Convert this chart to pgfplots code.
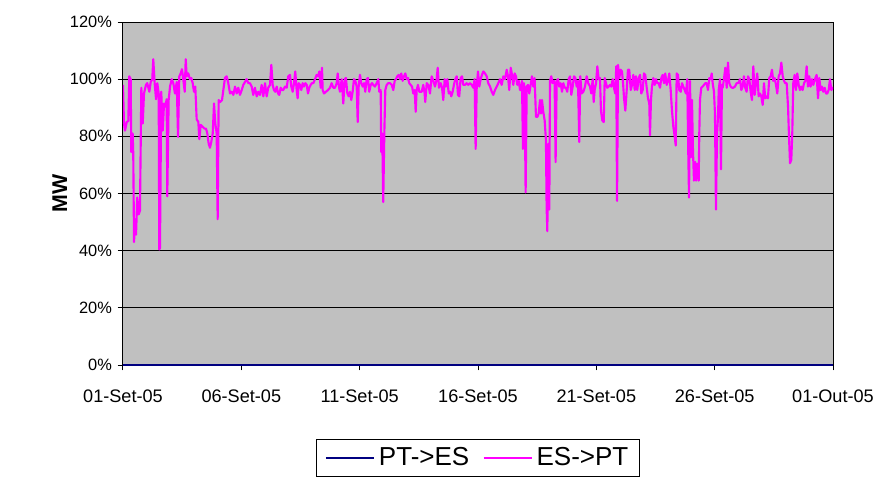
\documentclass[border=0pt]{standalone}
\usepackage{fontspec}
\setmainfont{Liberation Sans}
\usepackage{pgfplots}
\usepackage{pgfplotstable}
\pgfplotsset{compat=1.18}

% hours since 01-Sep-05 00:00, percent of capacity
\pgfplotstableread{
h v
0 98
1.0 84.5
2.0 82
3.8 85
5.4 85.4
6.4 101
7.8 100
8.4 74.5
9.8 81
10.4 74
11.2 43
12.2 51
13.2 45.6
14.5 58.6
15.9 52.7
17.2 54
18.6 97
20.0 84.5
21.3 95
23.3 98
24.6 98.6
26.7 95.6
28.1 99
29.7 100
30.7 107
32.1 98.6
33.5 93
34.8 98.6
36.2 95
36.8 40.4
37.5 41
38.8 95.6
40.3 82
41.6 91.5
42.9 90.4
44.3 93
44.9 59
46.3 92.7
47.7 97.4
49.4 100
51.0 98.6
52.7 95
54.5 99
55.8 79.8
57.1 101
58.5 102
59.8 103.5
61.1 100
62.6 95.6
63.6 107
64.6 101
66.2 102
67.9 100
69.3 100.4
70.7 98.6
72.0 95.6
73.3 97.4
74.7 86
76.4 85
77.4 79
78.8 84
80.8 83.3
82.8 82.7
84.2 82.7
85.5 81
86.9 77.4
88.2 76
89.5 78
91.0 81
92.3 91.5
93.6 84.5
95.0 81
96.0 51
97.0 92.7
98.4 92
100.4 92.7
103.4 100.4
105.1 101
106.8 98.6
108.5 95
110.2 95.6
111.9 94.5
113.6 97.4
115.3 95
116.9 97
118.6 94.5
120.4 96.2
122.0 98
123.7 99
125.4 100
127.1 98.6
128.8 98.6
130.5 97.4
132.1 94.5
133.8 97
135.6 94
137.2 95.6
138.9 94.5
140.6 98
142.3 94
144.0 98.6
145.7 94
147.3 97
149.1 98
150.4 105
151.8 98
153.1 96.2
154.4 95.6
155.9 97.4
157.2 95
158.5 94.5
159.9 97
161.2 96.2
162.5 96.2
164.3 97.4
166.0 97
167.6 101
169.3 101.5
170.7 97.4
172.1 95.6
173.4 98.6
174.7 102.7
176.1 96.2
177.1 93.3
178.2 98.6
179.5 98
180.8 96.2
182.2 98.6
183.5 97.4
184.9 98.6
186.3 98
187.6 95
188.9 97
190.3 98
191.6 98.6
193.0 98.6
194.7 100
196.4 101.5
197.7 101
199.1 102.7
200.5 97
201.8 104
202.5 96.2
203.8 95
205.8 95.6
207.9 96.2
209.9 97
211.6 98.6
213.3 97
215.0 97
216.7 98.6
217.7 102
219.0 97.4
220.0 95.6
221.8 100
223.4 91.5
224.8 100
226.1 100.4
227.5 95
228.9 94
230.2 95.6
231.5 92.7
232.9 95.6
234.2 100
235.6 99.4
237.0 97.4
238.0 85
239.0 97.4
240.3 101.5
241.6 98.6
243.1 97.4
244.4 98.6
245.7 95.6
247.1 100
248.4 100.4
249.7 95.6
251.2 98
252.5 98.6
253.8 98
255.5 97.4
257.3 98.6
258.9 100
259.9 95.6
261.3 96.2
261.9 74.5
262.9 81
263.9 57
265.0 81
266.0 96.2
267.4 98
269.0 98.6
270.7 98.6
272.5 98
274.1 96.2
275.5 99.4
276.8 100
278.1 101
279.6 101.5
280.9 100
282.2 102
283.6 99.4
284.9 101
286.3 102
287.7 100
289.0 100.4
290.3 98.6
291.7 98
293.1 97.4
294.4 95
295.8 96.2
296.8 88.6
297.8 96.2
299.1 98
300.5 95.6
302.9 95.6
304.5 98
305.9 95
306.5 92
308.0 98.6
309.6 98
311.3 95
313.0 101
314.7 99.4
316.4 97.4
318.1 100
319.1 104
320.4 97
322.2 98.6
323.5 97
324.8 92.7
326.2 100
327.5 97.4
328.9 100
330.3 95
331.6 95.6
332.9 94
334.3 95.6
335.6 98
337.0 100
338.4 101
339.7 94.5
341.0 94
342.4 100.4
343.8 101
345.1 98
346.8 98
348.5 98.6
350.1 98
351.9 98.6
353.6 98
355.2 97
356.6 100
357.6 75.6
358.7 97.4
360.0 102.7
361.3 97.4
362.7 100
364.0 101.5
365.4 102.7
367.1 102
368.8 101
370.4 98.6
372.2 97.4
373.9 95.6
375.5 94.5
377.2 96.2
379.0 97.4
380.6 98.6
382.3 100
384.0 98
385.7 101
387.4 100
389.1 103.3
390.4 101
391.7 96.2
393.2 104
394.5 101.5
395.8 98
397.2 102
398.5 101
399.9 98
401.3 99.4
402.6 96.2
403.6 96.2
404.6 99.4
405.6 75.6
406.7 98.6
407.3 95
408.3 60.4
409.4 97.4
410.7 98
412.0 95
413.4 98
414.7 101
416.1 97.4
417.4 100.4
418.8 86.8
420.2 86.8
421.5 88
422.9 92.7
423.9 88
424.9 92.7
426.2 88.6
427.6 85.6
428.9 78.6
429.6 55
430.3 46.8
431.3 77.4
432.3 54.4
433.0 99.4
434.3 101
435.7 98.6
437.0 99.4
437.7 98.6
438.7 71
439.8 99.4
441.1 100
442.4 97.4
443.8 98.6
445.2 95.6
446.5 98.6
447.9 97
449.2 97
450.5 95.6
452.0 100
453.3 101
454.6 94.5
456.0 97.4
457.4 101
458.7 100.4
460.1 97.4
461.4 99.4
462.7 78
463.7 101
465.1 95
466.8 95.6
468.5 97.4
470.2 101
471.8 98.6
473.6 97.4
474.9 95
476.3 100
477.3 92
478.3 96.2
479.7 98.6
481.0 104.5
482.4 100
483.7 100.4
484.7 89
486.0 85.6
487.5 85
488.5 100.4
489.8 98.6
491.1 97
492.5 97.4
493.9 98
495.2 97.4
496.6 100
497.9 97
499.2 95
500.2 104.5
501.0 57.4
502.0 105
503.3 100.4
504.7 103.3
506.0 102.7
507.1 98.6
508.1 93.3
509.4 89
510.8 96.2
512.1 103.3
513.4 103.3
514.9 96.2
516.2 98
517.5 101.5
518.9 96.2
520.2 101
521.5 96.2
523.0 100.4
524.3 101.5
525.6 95
527.0 96.2
528.3 102
529.6 101.5
531.1 97
532.4 93.3
533.7 91.5
534.4 80.4
535.4 92.7
536.4 97.4
537.8 100.4
539.2 98
540.5 100
541.8 98.6
543.2 98.6
544.6 97
545.9 100.4
547.3 101.5
548.6 98.6
549.9 102
551.4 98
552.7 99.4
554.0 102
555.4 96.2
556.7 89
558.1 83.3
559.5 79.8
560.5 76.8
561.5 102
562.8 101.5
564.1 96.2
565.6 95.6
566.9 98.6
568.2 97.4
569.6 96.2
570.9 95
572.2 100
573.2 75
574.0 58.6
575.0 99.4
576.0 72.7
577.0 92.7
578.0 75
579.0 64.5
580.3 71
581.1 64.5
582.4 70.4
583.8 64.5
584.4 81
585.1 92.7
586.4 97
587.8 97.4
589.2 98
590.5 98.6
591.9 98.6
593.2 96.2
594.6 100.4
595.9 100
597.0 102
598.0 98.6
599.3 95.6
600.3 88
601.3 54.4
602.4 81
603.4 86.8
604.1 96.2
605.4 100
606.4 68.5
607.4 98
608.1 97
609.4 100
610.8 104
612.2 97
613.5 105.8
614.8 98.6
616.2 97.4
617.6 97
618.9 97
620.6 97.4
622.3 98.6
623.9 98.6
625.7 100
627.0 96.2
628.4 97.4
629.7 101
631.0 97
632.4 95.6
633.8 101
635.1 100
636.5 95.6
637.8 92.7
639.2 104.5
640.6 94.5
641.9 98.6
643.2 102
644.6 94
645.9 95
647.3 94
648.7 91
650.0 98.6
651.3 93.3
652.7 94
654.0 93.3
655.4 100.4
656.8 101
658.1 103.3
659.4 99.4
660.8 100.4
662.2 98
663.5 95
664.9 101
666.2 102
667.6 105.8
669.0 101
670.3 99.4
671.6 98.6
673.0 98.6
674.4 90.4
675.4 79.8
676.4 70.6
677.7 71.8
678.7 81
679.7 98.6
681.1 101.5
682.4 96.2
683.8 102
685.2 98
686.5 96.2
687.8 97.4
689.2 96.2
690.6 98.6
691.9 99.4
693.3 104.5
694.6 97.4
695.9 101
697.3 97.4
698.7 100
700.0 98
701.7 100
703.4 101.5
704.8 93.3
706.1 100.4
707.5 96.2
708.8 97.4
710.1 95.6
711.6 97
712.9 95
714.2 95
715.6 96.2
716.9 100
718.3 96.2
719.7 97
720 97
}\esptdata

\definecolor{plotgray}{HTML}{C0C0C0}
\definecolor{ptes}{HTML}{000080}
\definecolor{espt}{HTML}{FF00FF}

\begin{document}
\begin{tikzpicture}
\fontsize{12.3}{14}\selectfont
\useasboundingbox (-92.25pt,-86.25pt) rectangle (573pt,273.75pt);
\begin{axis}[
    at={(0pt,0pt)}, anchor=south west,
    scale only axis,
    width=532.5pt, height=257.25pt,
    xmin=0, xmax=720,
    ymin=0, ymax=120,
    axis background/.style={fill=plotgray},
    axis line style={black, line width=0.75pt},
    xtick={0,120,240,360,480,600,720},
    xticklabels={01-Set-05,06-Set-05,11-Set-05,16-Set-05,21-Set-05,26-Set-05,01-Out-05},
    ytick={0,20,40,60,80,100,120},
    yticklabel={\pgfmathprintnumber{\tick}\%},
    /pgf/number format/assume math mode=true,
    tick style={black, line width=0.75pt},
    tick align=outside,
    major tick length=4pt,
    xtick pos=bottom, ytick pos=left,
    ymajorgrids,
    grid style={black, line width=0.75pt},
    yticklabel style={font=\fontsize{12.3}{14}\selectfont},
    xticklabel style={font=\fontsize{13.6}{15}\selectfont, yshift=-10pt},
    ylabel={MW},
    ylabel style={at={(axis description cs:-0.089,0.5)}, anchor=center, font=\bfseries\fontsize{16}{18}\selectfont},
    legend columns=2,
    legend style={at={(0.5,-0.2157)}, anchor=north, draw=black, line width=0.75pt,
        font=\fontsize{19.5}{22}\selectfont, inner xsep=6pt, inner ysep=4pt,
        /tikz/every odd column/.append style={column sep=1pt},
        /tikz/every even column/.append style={column sep=8pt}},
    legend image code/.code={\draw[#1, line width=1.5pt] (0pt,0pt) -- (36pt,0pt);},
]
\addplot[ptes, line width=1.5pt] coordinates {(0,0) (720,0)};
\addlegendentry{PT->ES}
\addplot[espt, line width=1.6pt, line join=round] table[x=h, y=v] {\esptdata};
\addlegendentry{ES->PT}
\end{axis}
\end{tikzpicture}
\end{document}
